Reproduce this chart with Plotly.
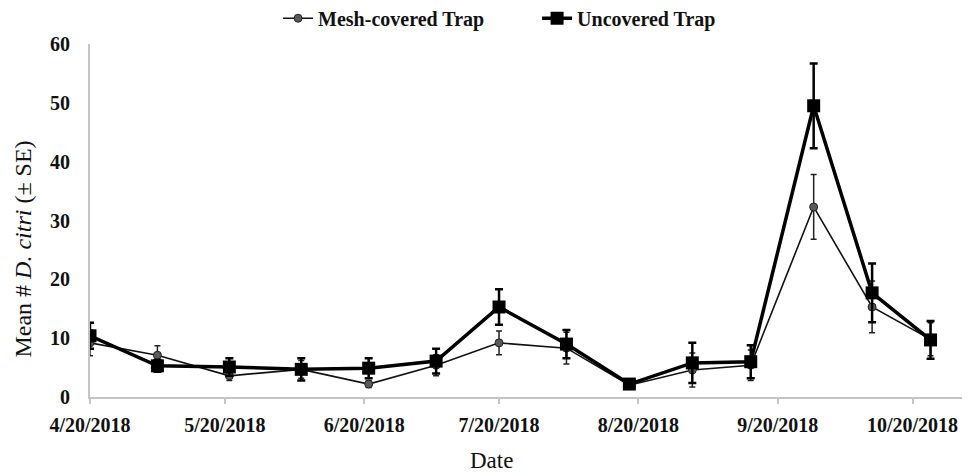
import plotly.graph_objects as go

dates = ["2018-04-20", "2018-05-05", "2018-05-21", "2018-06-06", "2018-06-21",
         "2018-07-06", "2018-07-20", "2018-08-04", "2018-08-18", "2018-09-01",
         "2018-09-14", "2018-09-28", "2018-10-11", "2018-10-24"]

mesh_mean = [9.2, 7.1, 3.6, 4.7, 2.2, 5.4, 9.2, 8.3, 2.0, 4.6, 5.4, 32.3, 15.3, 9.8]
mesh_se = [2.2, 1.6, 0.8, 1.5, 0.6, 1.8, 2.0, 2.7, 0.5, 2.9, 2.6, 5.5, 4.4, 2.8]

uncov_mean = [10.4, 5.3, 5.1, 4.7, 4.9, 6.1, 15.3, 9.0, 2.2, 5.8, 6.0, 49.5, 17.7, 9.7]
uncov_se = [2.2, 1.0, 1.5, 1.9, 1.7, 2.1, 3.0, 2.4, 0.5, 3.4, 2.8, 7.2, 5.0, 3.2]

tick_dates = ["2018-04-20", "2018-05-20", "2018-06-20", "2018-07-20",
              "2018-08-20", "2018-09-20", "2018-10-20"]
tick_labels = ["4/20/2018", "5/20/2018", "6/20/2018", "7/20/2018",
               "8/20/2018", "9/20/2018", "10/20/2018"]

FONT = "Liberation Serif, Times New Roman, serif"
AXIS_GRAY = "#c4c4c4"

fig = go.Figure()
fig.add_trace(
    go.Scatter(
        x=dates,
        y=mesh_mean,
        name="<b>Mesh-covered Trap</b>",
        mode="lines+markers",
        line=dict(color="#111111", width=1.6),
        marker=dict(symbol="circle", size=8, color="#5a5a5a",
                    line=dict(color="#222222", width=1)),
        error_y=dict(type="data", array=mesh_se, color="#222222",
                     thickness=1.5, width=3),
    )
)
fig.add_trace(
    go.Scatter(
        x=dates,
        y=uncov_mean,
        name="<b>Uncovered Trap</b>",
        mode="lines+markers",
        line=dict(color="#000000", width=3.5),
        marker=dict(symbol="square", size=13, color="#000000"),
        error_y=dict(type="data", array=uncov_se, color="#000000",
                     thickness=2.5, width=4),
    )
)

# axis titles placed as annotations (the original is not centred on the plot)
fig.add_annotation(
    text="Mean # <i>D. citri</i> (± SE)",
    xref="paper", yref="paper", x=-0.077, y=0.42,
    xanchor="center", yanchor="middle", textangle=-90,
    showarrow=False, font=dict(size=24, family=FONT, color="#111111"),
)
fig.add_annotation(
    text="Date",
    xref="paper", yref="paper", x=0.461, y=-0.181,
    xanchor="center", yanchor="middle",
    showarrow=False, font=dict(size=23, family=FONT, color="#111111"),
)

fig.update_layout(
    width=968,
    height=464,
    template="plotly_white",
    font=dict(family=FONT, color="#111111"),
    margin=dict(l=82, r=14, t=36, b=75),
    showlegend=True,
    legend=dict(
        orientation="h",
        xanchor="left",
        x=0.279,
        xref="container",
        yref="container",
        yanchor="middle",
        y=0.978,
        font=dict(size=20, family=FONT),
        itemwidth=30,
        entrywidth=214,
        tracegroupgap=0,
    ),
    xaxis=dict(
        type="date",
        range=["2018-04-20", "2018-10-31"],
        tickvals=tick_dates,
        ticktext=tick_labels,
        tickfont=dict(size=20, family=FONT, weight="bold"),
        showgrid=False,
        showline=True,
        linecolor=AXIS_GRAY,
        linewidth=2,
        ticks="outside",
        tickcolor=AXIS_GRAY,
        tickwidth=1.5,
        ticklen=5,
        ticklabelstandoff=4,
        zeroline=False,
        automargin=False,
    ),
    yaxis=dict(
        range=[0, 60],
        dtick=10,
        tickfont=dict(size=20, family=FONT, weight="bold"),
        showgrid=False,
        showline=True,
        linecolor=AXIS_GRAY,
        linewidth=2,
        zeroline=False,
        ticks="",
        ticklabelstandoff=14,
        automargin=False,
    ),
)

fig.write_html("out.html")
